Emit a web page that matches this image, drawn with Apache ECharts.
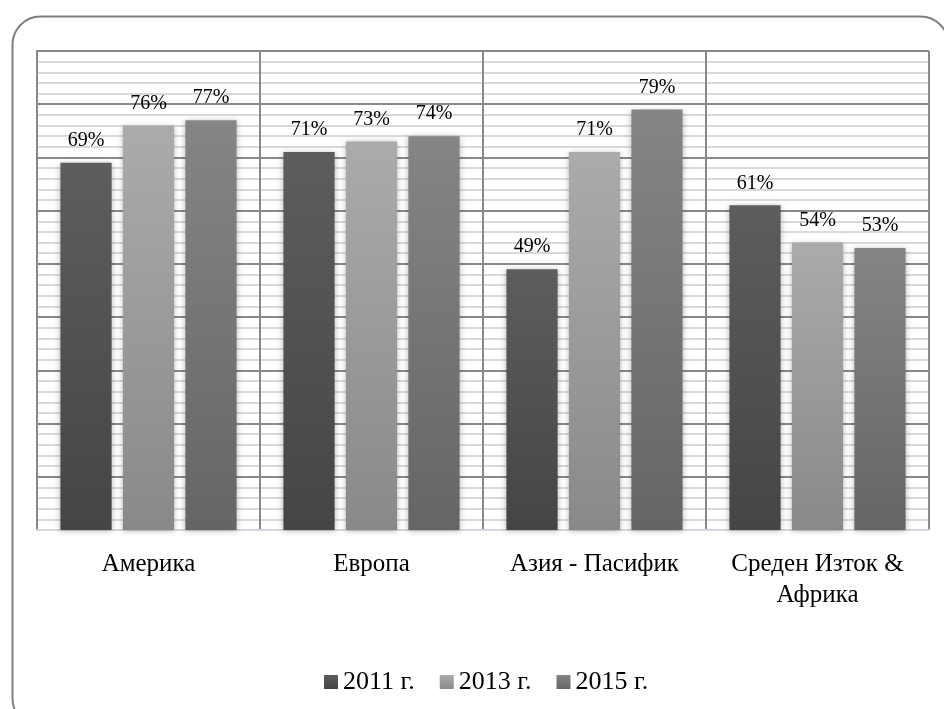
<!DOCTYPE html>
<html>
<head>
<meta charset="utf-8">
<script src="https://cdn.jsdelivr.net/npm/echarts@6/dist/echarts.min.js"></script>
<style>
  html, body { margin: 0; padding: 0; background: #fff; }
  #chart { width: 944px; height: 709px; }
</style>
</head>
<body>
<div id="chart"></div>
<script>
// Regions and yearly shares (%)
const categories = ['Америка', 'Европа', 'Азия - Пасифик', 'Среден Изток &\nАфрика'];
const seriesNames = ['2011 г.', '2013 г.', '2015 г.'];
const values2011 = [69, 71, 49, 61];
const values2013 = [76, 73, 71, 54];
const values2015 = [77, 74, 79, 53];

const font = '"Liberation Serif", "DejaVu Serif", serif';

function grad(top, bottom) {
  return new echarts.graphic.LinearGradient(0, 0, 0, 1, [
    { offset: 0, color: top },
    { offset: 1, color: bottom }
  ]);
}

const fills = [
  grad('#5d5d5d', '#454545'),
  grad('#ababab', '#898989'),
  grad('#858585', '#656565')
];

const dataSets = [values2011, values2013, values2015];

const chart = echarts.init(document.getElementById('chart'));

chart.setOption({
  animation: false,
  backgroundColor: '#fff',
  textStyle: { fontFamily: font },
  grid: { left: 37, right: 15, top: 51, bottom: 179, containLabel: false },
  graphic: [{
    type: 'rect',
    left: 10, top: 14,
    shape: { width: 936, height: 710, r: 28 },
    style: { fill: 'none', stroke: '#7f7f7f', lineWidth: 2 },
    z: -10
  }],
  legend: {
    top: 664,
    left: 319,
    itemWidth: 14,
    itemHeight: 14,
    itemGap: 25,
    icon: 'rect',
    textStyle: { fontFamily: font, fontSize: 26, color: '#000' },
    data: seriesNames
  },
  xAxis: {
    type: 'category',
    data: categories,
    axisTick: { show: false },
    axisLine: { show: true, lineStyle: { color: '#d3d9e0', width: 2 } },
    axisLabel: {
      margin: 19,
      fontFamily: font,
      fontSize: 25,
      color: '#000',
      lineHeight: 31,
      interval: 0
    },
    splitLine: { show: true, lineStyle: { color: '#898989', width: 2 } }
  },
  yAxis: {
    type: 'value',
    min: 0,
    max: 90,
    interval: 10,
    axisLabel: { show: false },
    axisLine: { show: true, lineStyle: { color: '#898989', width: 2 } },
    axisTick: { show: false },
    splitLine: { show: true, lineStyle: { color: '#898989', width: 2 } },
    minorTick: { show: false, splitNumber: 5 },
    minorSplitLine: { show: true, lineStyle: { color: '#d9d9d9', width: 2 } }
  },
  series: seriesNames.map((name, i) => ({
    name,
    type: 'bar',
    data: dataSets[i],
    barGap: '22%',
    barCategoryGap: '21%',
    itemStyle: {
      color: fills[i],
      shadowBlur: 6,
      shadowColor: 'rgba(0,0,0,0.28)',
      shadowOffsetX: 0,
      shadowOffsetY: 1
    },
    label: {
      show: true,
      position: 'top',
      distance: 12,
      formatter: '{c}%',
      fontFamily: font,
      fontSize: 20,
      color: '#000'
    }
  }))
});
</script>
</body>
</html>
